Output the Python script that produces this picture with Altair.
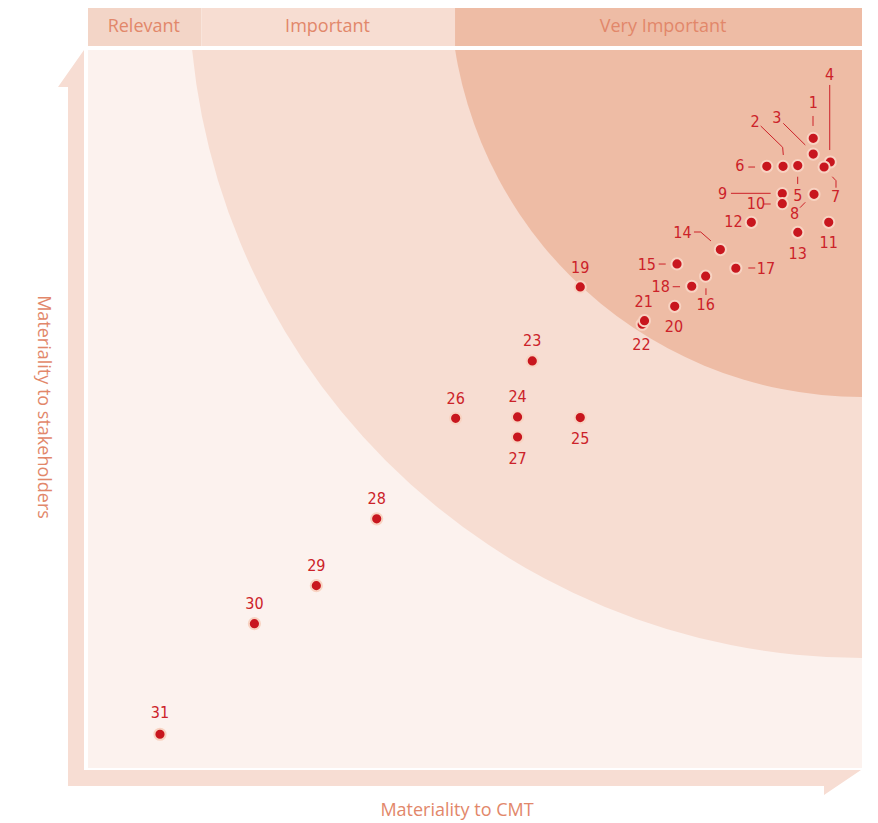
import math
import altair as alt
import pandas as pd

# ---------------- data ----------------
ids = ["1", "2", "3", "4", "5", "6", "7", "8", "9", "10", "11", "12", "13", "14", "15",
       "16", "17", "18", "19", "20", "22", "21", "23", "24", "25", "26", "27", "28", "29", "30", "31"]
x_cmt = [93.7, 89.8, 93.7, 95.9, 91.7, 87.7, 95.1, 93.8, 89.7, 89.7, 95.7, 85.7, 91.7, 81.7, 76.1,
         79.8, 83.7, 78.0, 63.6, 75.8, 71.6, 71.9, 57.4, 55.5, 63.6, 47.5, 55.5, 37.3, 29.5, 21.5, 9.3]
y_stake = [87.7, 83.8, 85.5, 84.4, 83.9, 83.8, 83.7, 79.9, 80.0, 78.6, 76.0, 76.0, 74.6, 72.2, 70.2,
           68.5, 69.6, 67.1, 67.0, 64.3, 61.8, 62.3, 56.7, 48.9, 48.8, 48.7, 46.1, 34.7, 25.4, 20.1, 4.7]
label_x = [93.7, 86.2, 89.0, 95.8, 91.7, 84.2, 96.6, 91.3, 82.0, 86.3, 95.7, 83.4, 91.7, 76.8, 72.2,
           79.8, 87.6, 74.0, 63.6, 75.7, 71.5, 71.8, 57.4, 55.5, 63.6, 47.5, 55.5, 37.3, 29.5, 21.5, 9.3]
label_y = [92.6, 90.0, 90.5, 96.5, 79.7, 83.8, 79.5, 77.2, 80.0, 78.6, 73.1, 76.0, 71.6, 74.5, 70.0,
           64.5, 69.5, 67.0, 69.6, 61.4, 58.9, 64.9, 59.5, 51.7, 45.8, 51.4, 43.0, 37.5, 28.1, 22.8, 7.6]

# leader lines (polylines) : id, vertex order, x, y
leader_id = ["1", "1", "2", "2", "2", "3", "3", "4", "4", "6", "6", "5", "5", "7", "7", "7",
             "9", "9", "10", "10", "8", "8", "14", "14", "14", "15", "15", "17", "17", "18", "18", "16", "16"]
leader_ord = [0, 1, 0, 1, 2, 0, 1, 0, 1, 0, 1, 0, 1, 0, 1, 2,
              0, 1, 0, 1, 0, 1, 0, 1, 2, 0, 1, 0, 1, 0, 1, 0, 1]
leader_x = [93.67, 93.67, 86.91, 89.75, 89.83, 89.83, 92.67, 95.83, 95.83, 85.31, 86.18, 91.69, 91.69,
            96.16, 96.64, 96.64, 83.07, 88.20, 87.25, 88.20, 91.99, 92.67, 78.29, 79.16, 80.49,
            73.73, 74.64, 85.31, 86.21, 75.54, 76.49, 79.84, 79.84]
leader_y = [90.81, 89.42, 89.42, 86.45, 85.38, 89.79, 86.77, 95.13, 86.07, 83.70, 83.70, 82.35, 81.34,
            82.35, 81.80, 80.82, 80.04, 80.04, 78.55, 78.55, 78.04, 78.79, 74.65, 74.65, 73.40,
            70.19, 70.19, 69.64, 69.64, 67.03, 67.03, 66.81, 65.88]

# header bands
band_names = ["Relevant", "Important", "Very Important"]
band_start = [0, 14.66, 47.42]
band_end = [14.66, 47.42, 100]
band_label_x = [7.21, 30.94, 74.3]

# materiality zones centre (data units)
zone_cx = [100]
zone_cy = [109.05]

x_title = ["Materiality to CMT"]
y_title = ["Materiality to stakeholders"]

# ---------------- styles ----------------
RED = "#C8161E"
LABEL_RED = "#CC2229"
SALMON = "#E2876A"
BG = "#FCF2EE"
MID = "#F7DDD2"
DARK = "#EEBCA5"
REL_HEAD = "#F3D5C7"
ARROW = "#F7DDD3"
W, H = 774, 718

XS = alt.Scale(domain=[0, 100], nice=False, zero=False)
YS = alt.Scale(domain=[0, 100], nice=False, zero=False)


def X(f):
    return alt.X(f, type="quantitative", scale=XS, axis=None)


def Y(f):
    return alt.Y(f, type="quantitative", scale=YS, axis=None)


pts = pd.DataFrame({"id": ids, "x": x_cmt, "y": y_stake})
labs = pd.DataFrame({"id": ids, "lx": label_x, "ly": label_y})
leads = pd.DataFrame({"lid": leader_id, "ord": leader_ord, "x": leader_x, "y": leader_y})
bands = pd.DataFrame({"name": band_names, "x0": band_start, "x1": band_end, "xc": band_label_x})
zone = pd.DataFrame({"cx": zone_cx, "cy": zone_cy})

mid_zone = alt.Chart(zone).mark_arc(radius=673, theta=0, theta2=2 * math.pi, color=MID, clip=True).encode(
    x=X("cx"), y=Y("cy"))
dark_zone = alt.Chart(zone).mark_arc(radius=412, theta=0, theta2=2 * math.pi, color=DARK, clip=True).encode(
    x=X("cx"), y=Y("cy"))

head_rect = alt.Chart(bands).mark_rect().encode(
    x=X("x0"), x2="x1", y=alt.value(-44), y2=alt.value(-4),
    color=alt.Color("name:N", scale=alt.Scale(domain=band_names, range=[REL_HEAD, MID, DARK]), legend=None))
head_text = alt.Chart(bands).mark_text(font="Open Sans", fontSize=18, color=SALMON, baseline="alphabetic").encode(
    x=X("xc"), y=alt.value(-18), text="name:N")

L_PATH = "M -4 0 L -4 720 L 773 720 L 736 745 L 736 736 L -20 736 L -20 37 L -30 37 Z"
arrows = alt.Chart(pd.DataFrame({"a": [1]})).mark_point(
    shape=L_PATH, size=4, filled=True, opacity=1, color=ARROW, strokeWidth=0).encode(
    x=alt.value(0), y=alt.value(0))

xt = alt.Chart(pd.DataFrame({"t": x_title})).mark_text(
    font="Open Sans", fontSize=18, color=SALMON, baseline="alphabetic", align="center").encode(
    x=alt.value(369), y=alt.value(766), text="t:N")
yt = alt.Chart(pd.DataFrame({"t": y_title})).mark_text(
    font="Open Sans", fontSize=18, color=SALMON, baseline="alphabetic", align="center", angle=90).encode(
    x=alt.value(-50), y=alt.value(357), text="t:N")

leaders = alt.Chart(leads).mark_line(color=LABEL_RED, strokeWidth=1).encode(
    x=X("x"), y=Y("y"), detail="lid:N", order="ord:Q")

dots = alt.Chart(pts).mark_circle(size=125, color=RED, opacity=1, stroke="#F8D3C2", strokeWidth=2).encode(
    x=X("x"), y=Y("y"))

labels = alt.Chart(labs).mark_text(
    font="Liberation Sans Narrow, DejaVu Sans Condensed, Roboto", fontSize=16, color=LABEL_RED,
    baseline="middle", align="center").encode(
    x=X("lx"), y=Y("ly"), text="id:N")

chart = alt.layer(
    mid_zone, dark_zone, head_rect, head_text, arrows, xt, yt, leaders, dots, labels
).properties(
    width=W, height=H,
    autosize=alt.AutoSizeParams(type="none"),
    padding={"left": 80, "top": 42, "right": 8, "bottom": 55},
).configure_view(fill=BG, strokeWidth=0)

chart.save("out.html", embed_options={"renderer": "svg", "actions": False})
